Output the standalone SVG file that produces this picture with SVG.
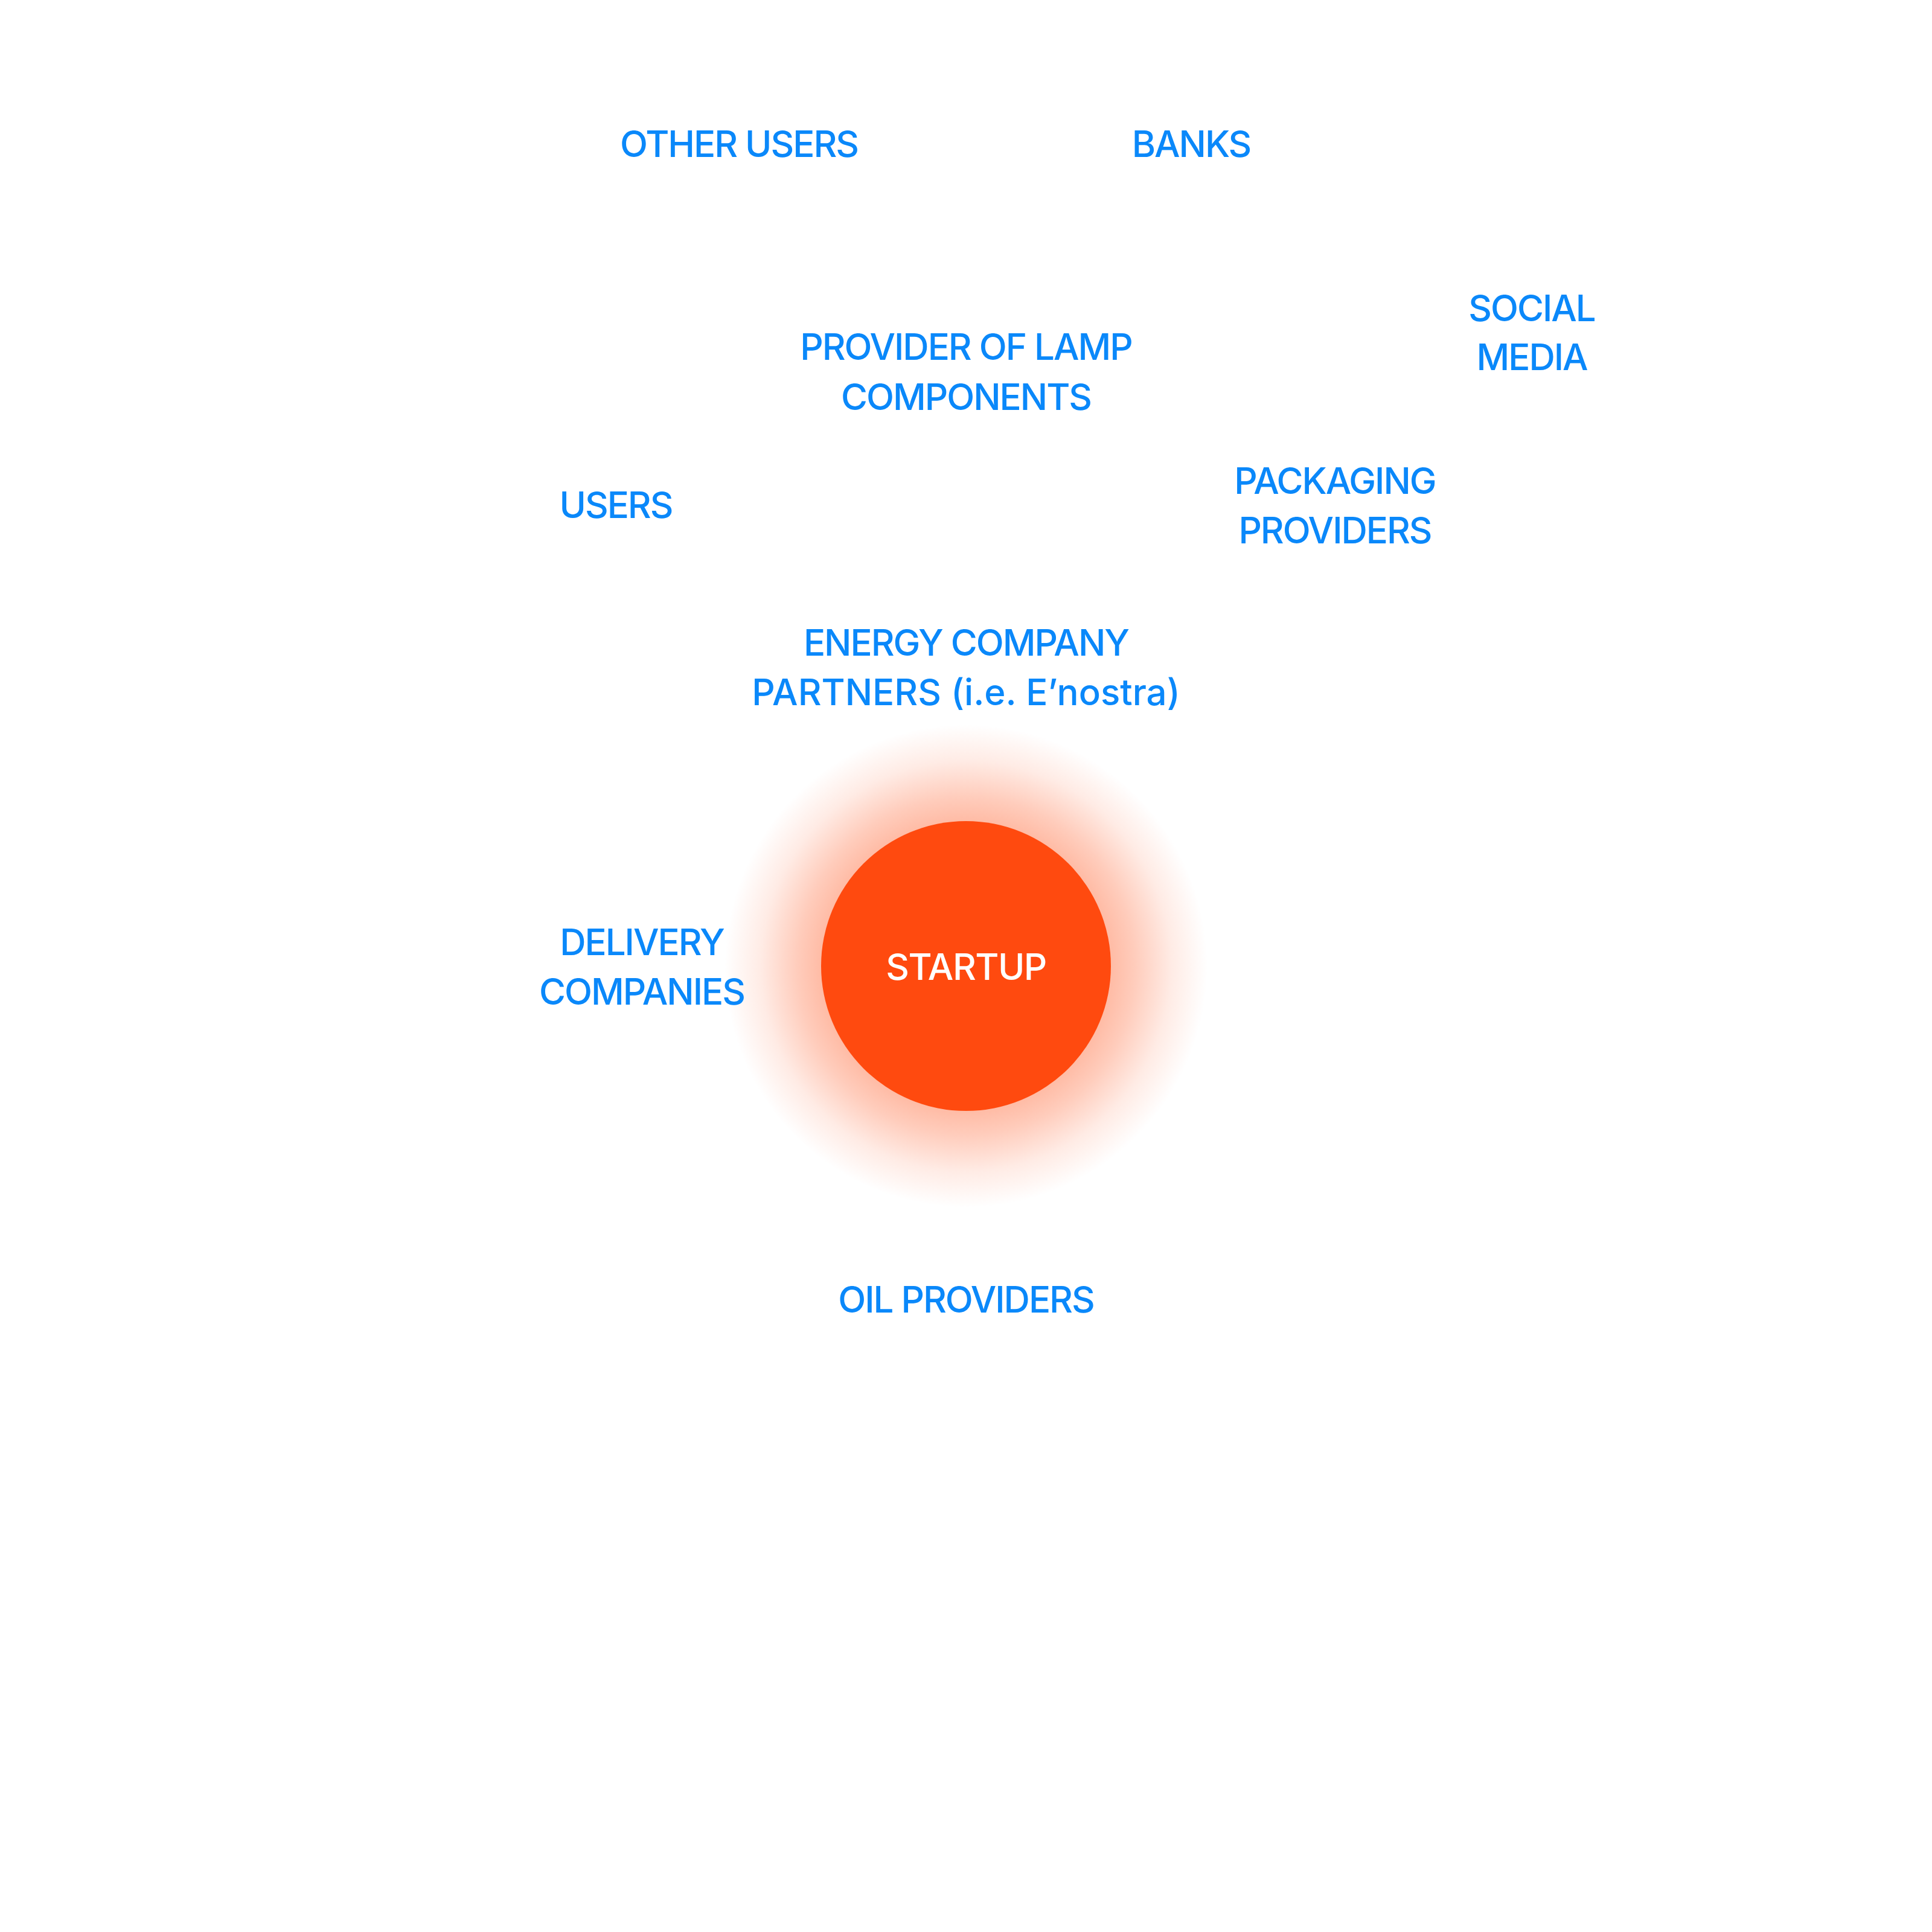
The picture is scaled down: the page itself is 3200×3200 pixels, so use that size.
<svg xmlns="http://www.w3.org/2000/svg" width="3200" height="3200" viewBox="0 0 3200 3200">
<style>
.lbl{font-family:Inter,"Noto Sans","Liberation Sans",sans-serif;font-size:60px;font-weight:500;fill:#0A88FA;text-anchor:middle;letter-spacing:-2px}
.wide{letter-spacing:0px}
.core{font-family:Inter,"Noto Sans","Liberation Sans",sans-serif;font-size:60px;font-weight:500;fill:#FFFFFF;text-anchor:middle;letter-spacing:-1.5px}
</style>
<defs>
<radialGradient id="glow" cx="1600" cy="1600" r="400" gradientUnits="userSpaceOnUse">
<stop offset="0.55" stop-color="#FF4A0F" stop-opacity="0.42"/>
<stop offset="0.7" stop-color="#FF4A0F" stop-opacity="0.28"/>
<stop offset="0.85" stop-color="#FF4A0F" stop-opacity="0.11"/>
<stop offset="1" stop-color="#FF4A0F" stop-opacity="0"/>
</radialGradient>
</defs>
<rect width="3200" height="3200" fill="#FFFFFF"/>
<g id="connectors"></g>
<g id="startup">
<circle cx="1600" cy="1600" r="400" fill="url(#glow)"/>
<circle cx="1600" cy="1600" r="240" fill="#FF4A0F"/>
<text class="core" x="1600" y="1623">STARTUP</text>
</g>
<g id="other-users"><text class="lbl" x="1224" y="260">OTHER USERS</text></g>
<g id="banks"><text class="lbl" x="1973" y="260">BANKS</text></g>
<g id="social-media"><text class="lbl" x="2537" y="532">SOCIAL</text><text class="lbl" x="2537" y="613">MEDIA</text></g>
<g id="lamp-components"><text class="lbl" x="1600" y="596">PROVIDER OF LAMP</text><text class="lbl" x="1600" y="679">COMPONENTS</text></g>
<g id="users"><text class="lbl" x="1020" y="858">USERS</text></g>
<g id="packaging"><text class="lbl" x="2211" y="818">PACKAGING</text><text class="lbl" x="2211" y="900">PROVIDERS</text></g>
<g id="energy"><text class="lbl" x="1600" y="1086">ENERGY COMPANY</text><text class="lbl wide" x="1600" y="1168">PARTNERS (i.e. E’nostra)</text></g>
<g id="delivery"><text class="lbl" x="1063" y="1582">DELIVERY</text><text class="lbl" x="1063" y="1664">COMPANIES</text></g>
<g id="oil"><text class="lbl" x="1600" y="2174">OIL PROVIDERS</text></g>
</svg>
